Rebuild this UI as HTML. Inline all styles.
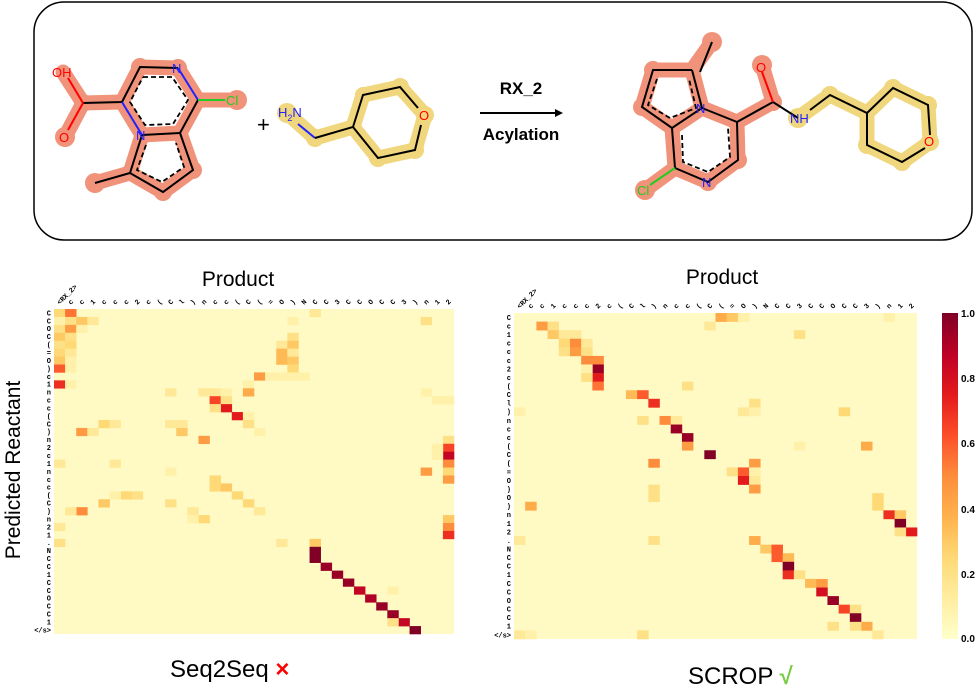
<!DOCTYPE html>
<html><head><meta charset="utf-8">
<style>
html,body{margin:0;padding:0;background:#fff;}
body{width:980px;height:689px;position:relative;overflow:hidden;font-family:"Liberation Sans",sans-serif;}
svg{position:absolute;left:0;top:0;}
</style></head>
<body>
<svg id="s" width="980" height="689" viewBox="0 0 980 689" xmlns="http://www.w3.org/2000/svg">
<rect x="34" y="2" width="938" height="238" rx="30" ry="30" fill="#fff" stroke="#000" stroke-width="1.5"/>
<g stroke="#f0937a" stroke-width="15" stroke-linecap="round" stroke-linejoin="round" fill="none">
<polyline points="63,72 83,103 65,137"/>
<polyline points="83,103 122,102 140,67 178,68 198,100 237,100"/>
<polyline points="198,100 180,133 142,135 122,102"/>
<polyline points="142,135 130,173 95,183"/>
<polyline points="130,173 163,192 193,170 180,133"/>
<polyline points="712,42 692,70 653,70 642,107 672,128 702,108 692,70"/>
<polyline points="672,128 675,168 708,182 738,160 737,122 702,108"/>
<polyline points="737,122 773,102 762,65"/>
<polyline points="675,168 645,190"/>
</g>
<g fill="#f0937a">
<circle cx="65" cy="137" r="10"/><circle cx="95" cy="183" r="10"/><circle cx="237" cy="100" r="10"/><circle cx="163" cy="192" r="9"/><circle cx="193" cy="170" r="9"/><circle cx="140" cy="67" r="9"/><circle cx="178" cy="68" r="9"/><circle cx="83" cy="103" r="9"/>
<circle cx="712" cy="42" r="10"/><circle cx="653" cy="70" r="9"/><circle cx="642" cy="107" r="9"/><circle cx="762" cy="65" r="10"/><circle cx="645" cy="190" r="10"/><circle cx="708" cy="182" r="9"/><circle cx="738" cy="160" r="9"/><circle cx="773" cy="102" r="9"/>
</g>
<g stroke="#f0d67c" stroke-width="15" stroke-linecap="round" stroke-linejoin="round" fill="none">
<polyline points="287,113 315,138 353,127 363,95 400,87 425,115 415,150 378,158 353,127"/>
<polyline points="798,118 830,95 867,113 893,88 928,105 930,142 902,162 867,145 867,113"/>
</g>
<g fill="#f0d67c">
<circle cx="287" cy="113" r="10"/><circle cx="315" cy="138" r="9"/><circle cx="400" cy="87" r="9"/><circle cx="425" cy="115" r="9"/><circle cx="415" cy="150" r="9"/><circle cx="378" cy="158" r="9"/><circle cx="363" cy="95" r="8"/>
<circle cx="798" cy="118" r="10"/><circle cx="830" cy="95" r="9"/><circle cx="893" cy="88" r="9"/><circle cx="928" cy="105" r="9"/><circle cx="930" cy="142" r="9"/><circle cx="902" cy="162" r="9"/><circle cx="867" cy="145" r="9"/>
</g>
<g stroke="#000" stroke-width="2" fill="none">
<polyline points="83,103 122,102 140,67 178,68"/><line x1="178" y1="68" x2="198" y2="100" stroke="#22f"/>
<line x1="198" y1="100" x2="180" y2="133"/><line x1="198" y1="100" x2="225" y2="100" stroke="#2c2"/>
<line x1="180" y1="133" x2="142" y2="135"/><line x1="142" y1="135" x2="122" y2="102" stroke="#22f"/>
<polyline points="142,135 130,173 95,183"/><polyline points="130,173 163,192 193,170 180,133"/>
<line x1="83" y1="103" x2="68" y2="78" stroke="#f00"/><line x1="83" y1="103" x2="68" y2="130" stroke="#f00"/>
<line x1="315" y1="138" x2="298" y2="124" stroke="#22f"/>
<polyline points="315,138 353,127 363,95 400,87 418,108"/><polyline points="353,127 378,158 415,150 421,125"/>
<polyline points="700,72 712,42"/><polyline points="692,70 653,70 642,107 672,128 702,108 692,70"/>
<polyline points="672,128 675,168 708,182 738,160 737,122 702,108"/>
<polyline points="737,122 773,102 798,118"/><line x1="773" y1="102" x2="762" y2="72" stroke="#f00"/>
<polyline points="810,110 830,95 867,113 893,88 928,105 930,135"/><polyline points="867,113 867,145 902,162 925,148"/>
<line x1="675" y1="168" x2="650" y2="185" stroke="#2c2"/>
<line x1="480" y1="113" x2="558" y2="113"/>
</g>
<polygon points="563,113 555,109 555,117" fill="#000"/>
<g stroke="#000" stroke-width="1.8" stroke-dasharray="5,3" fill="none">
<polyline points="143,77 172,77 188,100 173,124 145,125 130,102 143,77"/>
<polyline points="146,145 137,170 162,182 184,167 176,143"/>
<polyline points="657,79 648,105 670,118 696,108 689,79"/>
<polyline points="682,135 683,162 708,172 730,157 728,128"/>
</g>
<g font-size="13" font-family="Liberation Sans,sans-serif">
<text x="52" y="77" fill="#f00">OH</text><text x="59" y="142" fill="#f00">O</text>
<text x="172" y="73" fill="#22f">N</text><text x="136" y="140" fill="#22f">N</text>
<text x="226" y="105" fill="#2c2">Cl</text>
<text x="278" y="117" fill="#22f">H<tspan font-size="9" dy="4">2</tspan><tspan dy="-4">N</tspan></text>
<text x="419" y="120" fill="#f00">O</text>
<text x="696" y="113" fill="#22f">N</text><text x="702" y="187" fill="#22f">N</text>
<text x="637" y="195" fill="#2c2">Cl</text><text x="756" y="72" fill="#f00">O</text>
<text x="790" y="123" fill="#22f">NH</text><text x="924" y="146" fill="#f00">O</text>
</g>
<text x="257" y="132" font-size="22">+</text>
<text x="521" y="94" font-size="17" font-weight="bold" text-anchor="middle">RX_2</text>
<text x="521" y="140" font-size="17" font-weight="bold" text-anchor="middle">Acylation</text>
<text x="238" y="286" font-size="21" text-anchor="middle">Product</text>
<text x="722" y="284" font-size="21" text-anchor="middle">Product</text>
<text transform="translate(20,470) rotate(-90)" font-size="21" text-anchor="middle">Predicted Reactant</text>
<text x="170" y="677" font-size="24">Seq2Seq <tspan fill="#f00" font-weight="bold">×</tspan></text>
<text x="688" y="684" font-size="24">SCROP <tspan fill="#7c4" font-weight="bold">√</tspan></text>
<defs><linearGradient id="cb" x1="0" y1="1" x2="0" y2="0">
<stop offset="0" stop-color="#ffffcc"/><stop offset=".125" stop-color="#ffeda0"/><stop offset=".25" stop-color="#fed976"/><stop offset=".375" stop-color="#feb24c"/><stop offset=".5" stop-color="#fd8d3c"/><stop offset=".625" stop-color="#fc4e2a"/><stop offset=".75" stop-color="#e31a1c"/><stop offset=".875" stop-color="#bd0026"/><stop offset="1" stop-color="#800026"/></linearGradient></defs>
<rect x="942" y="313" width="16" height="326" fill="url(#cb)"/>
<g font-size="10" font-weight="bold">
<text x="961" y="317">1.0</text><text x="961" y="382">0.8</text><text x="961" y="447">0.6</text><text x="961" y="513">0.4</text><text x="961" y="578">0.2</text><text x="961" y="642">0.0</text>
</g>
<g id="hm"></g>
</svg>
<script>
var stops=[[255,255,204],[255,237,160],[254,217,118],[254,178,76],[253,141,60],[252,78,42],[227,26,28],[189,0,38],[128,0,38]];
function col(v){v=Math.max(0,Math.min(1,v))*8;var i=Math.min(7,Math.floor(v)),f=v-i,a=stops[i],b=stops[i+1];
return 'rgb('+[0,1,2].map(function(k){return Math.round(a[k]+(b[k]-a[k])*f)}).join(',')+')';}
var NS='http://www.w3.org/2000/svg',g=document.getElementById('hm');
function el(t,a,txt){var e=document.createElementNS(NS,t);for(var k in a)e.setAttribute(k,a[k]);if(txt)e.textContent=txt;g.appendChild(e);return e;}
var cols=['<RX_2>','c','c','1','c','c','c','2','c','(','C','l',')','n','c','c','(','C','(','=','O',')','N','C','C','3','C','C','O','C','C','3',')','n','1','2'];
function draw(x0,y0,w,h,rows,cells){
 var nc=36,nr=rows.length,cw=w/nc,ch=h/nr;
 el('rect',{x:x0,y:y0,width:w,height:h,fill:'#fffac4'});
 cells.forEach(function(c){el('rect',{x:(x0+c[1]*cw).toFixed(2),y:(y0+c[0]*ch).toFixed(2),width:(cw+0.3).toFixed(2),height:(ch+0.3).toFixed(2),fill:col(c[2])});});
 rows.forEach(function(r,i){el('text',{x:x0-3,y:(y0+i*ch+ch*0.8).toFixed(1),'font-size':7,'font-weight':'bold','text-anchor':'end','font-family':'Liberation Mono,monospace'},r);});
 cols.forEach(function(c,i){var cx=x0+i*cw+cw/2,cy=y0-4;el('text',{x:cx.toFixed(1),y:cy,'font-size':7,'font-weight':'bold','font-family':'Liberation Mono,monospace',transform:'rotate(-45 '+cx.toFixed(1)+' '+cy+')'},c);});
}
var L=[[0,0,.25],[0,1,.55],[0,23,.15],[1,0,.1],[1,1,.2],[1,2,.3],[1,3,.15],[1,21,.1],[1,33,.2],[2,0,.2],[2,1,.45],[2,2,.1],[3,0,.3],[3,1,.2],[3,21,.2],[4,0,.2],[4,1,.25],[4,20,.15],[4,21,.3],[5,0,.25],[5,1,.15],[5,20,.35],[5,21,.15],[6,0,.3],[6,1,.1],[6,20,.35],[6,21,.3],[7,0,.6],[7,1,.1],[7,21,.25],[8,18,.45],[8,19,.1],[8,20,.1],[8,21,.1],[8,22,.1],[9,0,.7],[9,1,.1],[9,17,.1],[10,10,.15],[10,13,.15],[10,14,.15],[10,15,.1],[10,17,.4],[10,33,.1],[11,14,.65],[11,15,.2],[11,34,.1],[11,35,.1],[12,15,.75],[12,14,.2],[13,16,.75],[13,17,.1],[14,4,.25],[14,5,.15],[14,10,.15],[14,11,.15],[14,17,.2],[15,2,.45],[15,3,.15],[15,11,.3],[15,18,.1],[16,13,.45],[16,35,.2],[17,35,.65],[17,34,.1],[18,35,.85],[18,34,.1],[19,0,.15],[19,5,.15],[19,35,.5],[20,10,.1],[20,33,.45],[20,35,.25],[21,14,.25],[21,35,.45],[22,14,.25],[22,15,.3],[23,16,.25],[23,6,.25],[23,7,.2],[23,5,.1],[24,4,.3],[24,17,.25],[24,10,.2],[25,2,.5],[25,1,.15],[25,12,.15],[25,18,.15],[26,13,.25],[26,12,.1],[26,35,.3],[27,0,.15],[27,35,.5],[28,35,.7],[29,0,.2],[29,20,.15],[29,23,.3],[30,23,1],[31,23,1],[32,24,.95],[33,25,.95],[34,26,.95],[35,27,.85],[35,30,.1],[36,28,.9],[37,29,.95],[38,30,.95],[39,31,.85],[39,30,.2],[40,32,1]];
var R=[[0,18,.4],[0,19,.3],[0,20,.1],[0,33,.1],[1,2,.45],[1,3,.2],[1,17,.15],[2,3,.3],[2,4,.15],[2,5,.15],[2,25,.2],[3,4,.25],[3,5,.5],[3,6,.15],[4,4,.2],[4,5,.45],[4,6,.2],[5,6,.5],[5,7,.5],[6,7,.95],[6,6,.1],[7,7,.75],[7,6,.2],[8,7,.55],[8,15,.2],[9,10,.35],[9,11,.6],[10,12,.7],[10,21,.2],[11,0,.1],[11,20,.15],[11,21,.1],[11,29,.25],[12,11,.2],[12,13,.5],[12,14,.15],[13,14,.95],[14,15,.95],[15,15,.45],[15,25,.1],[15,31,.4],[16,17,1],[17,12,.5],[17,21,.45],[18,19,.2],[18,20,.6],[18,21,.1],[19,20,.75],[19,21,.15],[20,21,.45],[20,12,.2],[21,12,.2],[21,32,.25],[22,1,.4],[22,32,.25],[23,33,.7],[23,34,.3],[24,34,1],[25,35,.75],[25,34,.2],[26,0,.15],[26,12,.2],[26,21,.4],[27,22,.3],[27,23,.6],[28,23,.6],[28,24,.35],[29,24,1],[30,24,.7],[30,25,.2],[31,26,.35],[31,27,.45],[32,27,.8],[33,28,.95],[34,29,.65],[34,30,.2],[35,30,1],[36,31,.4],[36,30,.2],[36,28,.2],[37,0,.15],[37,1,.1],[37,11,.2],[37,32,.15]];
var lrows='C C O C ( = O ) c 1 n c c ( C ) n 2 c 1 n c c ( C ) n 2 1 . N C C 1 C C O C C 1 </s>'.split(' ');
var rrows='C c 1 c c c 2 c ( C l ) n c c ( C ( = O ) O ) n 1 2 . N C C 1 C C O C C 1 </s>'.split(' ');
draw(54,309,400,325,lrows,L);
draw(514,313,403,326,rrows,R);
</script>
</body></html>
